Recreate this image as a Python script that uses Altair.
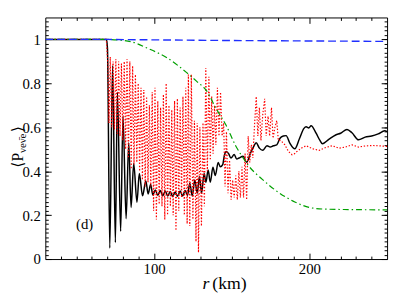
import altair as alt
import pandas as pd

# ---------------- data ----------------
black_r = [30, 69.4, 70.0, 71.5, 73.3, 75.1, 76.4, 78.5, 80.0, 82.0, 83.7, 85.2, 86.9, 89.0, 90.5,
           92.6, 94.7, 96.2, 97.8, 99.2, 100.8, 102.4, 104.0, 105.6, 107.2, 108.8, 110.4, 112.0,
           113.6, 115.2, 116.8, 118.4, 120.0, 121.5, 123.0, 124.6, 126.2, 127.8, 129.2, 130.6,
           132.2, 133.4, 134.8, 136.2, 137.9, 139.4, 141.3, 142.6, 144.2, 145.2, 146.5, 148.0,
           149.5, 151.6, 153.2, 154.7, 157.3, 159.6, 162.1, 164.2, 165.7, 167.8, 169.9, 172.7,
           174.8, 176.8, 179.0, 181.1, 183.2, 185.0, 187.4, 190.6, 193.7, 196.5, 197.9, 199.6,
           201.1, 204.3, 206.8, 208.4, 212.7, 216.9, 220.1, 224.2, 227.4, 231.6, 235.9, 240.1,
           244.3, 248.5, 250]
black_p = [1.0, 1.0, 0.96, 0.05, 0.88, 0.075, 0.76, 0.127, 0.65, 0.184, 0.53, 0.235, 0.435, 0.259, 0.39,
           0.288, 0.356, 0.296, 0.34, 0.292, 0.315, 0.29, 0.312, 0.288, 0.31, 0.287, 0.308, 0.285,
           0.305, 0.286, 0.31, 0.287, 0.312, 0.29, 0.345, 0.288, 0.36, 0.30, 0.375, 0.30,
           0.39, 0.35, 0.405, 0.35, 0.418, 0.38, 0.44, 0.42, 0.43, 0.47, 0.49, 0.48,
           0.46, 0.476, 0.455, 0.46, 0.468, 0.441, 0.483, 0.513, 0.53, 0.505, 0.495, 0.516,
           0.51, 0.516, 0.52, 0.55, 0.56, 0.562, 0.528, 0.502, 0.55, 0.595, 0.602, 0.597,
           0.607, 0.573, 0.54, 0.525, 0.546, 0.565, 0.573, 0.59, 0.575, 0.543, 0.555, 0.56,
           0.57, 0.584, 0.58]

red_r = [30, 69.3, 70.3, 71.0, 71.8, 72.7, 73.6, 74.5, 75.4, 76.3, 77.2, 78.1, 79.0, 79.9, 80.8,
         81.7, 82.6, 83.5, 84.4, 85.3, 86.2, 87.1, 88.0, 88.9, 89.8, 90.7, 91.6, 92.5, 93.4,
         94.3, 95.2, 96.1, 97.0, 97.9, 98.8, 99.7, 100.6, 101.5, 102.4, 103.3, 104.2, 105.1,
         106.0, 106.9, 107.8, 108.7, 109.6, 110.5, 111.4, 112.3, 113.2, 114.1, 115.0, 115.9,
         116.8, 117.7, 118.6, 119.5, 120.4, 121.3, 122.1, 123.0, 124.0, 125.0, 126.0, 127.0,
         127.8, 128.6, 129.5, 130.5, 131.5, 132.4, 133.3, 134.3, 135.3, 136.2, 137.1, 138.0,
         138.9, 139.8, 140.8, 141.8, 142.8, 143.8, 144.8, 145.7, 146.6, 147.6, 148.6, 149.6,
         150.6, 151.6, 152.6, 153.6, 154.6, 155.6, 156.6, 157.6, 158.6, 159.6, 160.6, 161.6,
         162.6, 163.6, 164.6, 165.8, 166.8, 167.8, 168.8, 170.0, 171.2, 172.2, 173.4, 174.4,
         175.6, 176.6, 177.8, 179.0, 180.0, 181.1, 182.2, 184.2, 186.5, 188.8, 190.5, 192.0,
         194.8, 197.9, 202.1, 206.3, 210.5, 214.7, 219.0, 223.2, 227.4, 231.6, 236.0, 241.0,
         246.0, 250.0]
red_p = [1.0, 1.0, 0.88, 0.62, 0.92, 0.60, 0.90, 0.59, 0.91, 0.57, 0.90, 0.56, 0.89, 0.54, 0.90,
         0.50, 0.91, 0.46, 0.90, 0.41, 0.88, 0.43, 0.84, 0.44, 0.80, 0.40, 0.78, 0.36, 0.77,
         0.33, 0.74, 0.35, 0.70, 0.33, 0.76, 0.22, 0.78, 0.18, 0.72, 0.25, 0.69, 0.24,
         0.75, 0.18, 0.80, 0.20, 0.70, 0.24, 0.68, 0.20, 0.72, 0.13, 0.73, 0.22,
         0.69, 0.28, 0.74, 0.20, 0.78, 0.16, 0.84, 0.15, 0.84, 0.18, 0.63, 0.08,
         0.62, 0.03, 0.60, 0.15, 0.62, 0.24, 0.87, 0.40, 0.83, 0.45, 0.74, 0.48,
         0.70, 0.52, 0.78, 0.56, 0.76, 0.56, 0.62, 0.33, 0.58, 0.30, 0.45, 0.27,
         0.36, 0.28, 0.38, 0.27, 0.40, 0.28, 0.42, 0.28, 0.48, 0.27, 0.56, 0.44,
         0.52, 0.46, 0.60, 0.74, 0.56, 0.69, 0.54, 0.66, 0.73, 0.56, 0.65, 0.56,
         0.69, 0.55, 0.60, 0.63, 0.54, 0.54, 0.535, 0.52, 0.49, 0.475, 0.48, 0.49,
         0.505, 0.516, 0.502, 0.495, 0.508, 0.516, 0.505, 0.51, 0.52, 0.51, 0.515, 0.517,
         0.515, 0.513]

green_r = [30, 70, 75, 85, 95.7, 108.4, 121, 127.3, 133.7, 140, 146.3, 152.6, 156, 160.8,
           169.7, 179.8, 190.6, 201.3, 211.4, 230, 250]
green_p = [1.0, 1.0, 0.998, 0.99, 0.96, 0.916, 0.849, 0.81, 0.767, 0.685, 0.61, 0.515, 0.475, 0.425,
           0.363, 0.305, 0.26, 0.233, 0.227, 0.225, 0.224]

blue_r = [30, 70, 100, 150, 200, 250]
blue_p = [1.0, 1.0, 0.998, 0.995, 0.993, 0.991]

panel_label = ["(d)"]
panel_r = [55.3]
panel_p = [0.157]

x_major = [100, 200]
x_minor = [40, 50, 60, 70, 80, 90, 110, 120, 130, 140, 150, 160, 170, 180, 190, 210, 220, 230, 240]
y_major = [0, 0.2, 0.4, 0.6, 0.8, 1.0]
y_minor = [round(i * 0.02, 2) for i in range(1, 55)]

# ---------------- chart ----------------
W, H = 348, 246
FONT = "Liberation Serif, Times New Roman, DejaVu Serif, serif"
xs = alt.Scale(domain=[30, 250], nice=False, zero=False)
ys = alt.Scale(domain=[0, 1.1], nice=False, zero=False)


def tick_axis(orient, values, size, offset):
    return alt.Axis(orient=orient, values=values, tickSize=size, offset=offset, labels=False,
                    domain=False, grid=False, title=None, ticks=True, tickColor="black", tickWidth=1)


def line(r, p, color, dash, width, xaxis, yaxis, interp="linear"):
    kw = dict(color=color, strokeWidth=width, interpolate=interp, clip=True)
    if dash:
        kw["strokeDash"] = dash
    return alt.Chart(pd.DataFrame({"r": r, "p": p})).mark_line(**kw).encode(
        x=alt.X("r:Q", scale=xs, axis=xaxis),
        y=alt.Y("p:Q", scale=ys, axis=yaxis),
        order=alt.Order("r:Q"),
    )


x_lab = alt.Axis(orient="bottom", values=x_major, tickSize=0, labelPadding=3, domain=False, grid=False,
                 title=None, format="d", labelFont=FONT, labelFontSize=15, labelColor="black")
y_lab = alt.Axis(orient="left", values=y_major, tickSize=0, labelPadding=5, domain=False, grid=False,
                 title=None, format="~g", labelFont=FONT, labelFontSize=15, labelColor="black")

black = line(black_r, black_p, "#000000", None, 1.5, x_lab, y_lab, "monotone")
red = line(red_r, red_p, "#ff0000", [1.4, 1.8], 1.2,
           tick_axis("top", x_minor, 3, -H), tick_axis("right", y_minor, 3, -W))
green = line(green_r, green_p, "#00a000", [6, 3, 1.5, 3], 1.2,
             tick_axis("top", x_major, 6, -H), tick_axis("right", y_major, 6, -W), "monotone")
blue = line(blue_r, blue_p, "#1f2fff", [8, 4], 1.4,
            tick_axis("bottom", x_minor, 3, -H), tick_axis("left", y_minor, 3, -W))

panel = alt.Chart(pd.DataFrame({"r": panel_r, "p": panel_p, "t": panel_label})).mark_text(
    font=FONT, fontSize=15, color="black", align="center", baseline="middle"
).encode(
    x=alt.X("r:Q", scale=xs, axis=tick_axis("bottom", x_major, 6, -H)),
    y=alt.Y("p:Q", scale=ys, axis=tick_axis("left", y_major, 6, -W)),
    text="t:N",
)

one = pd.DataFrame({"a": [0]})


def label(text, x, y, size, angle=0, style="normal"):
    return alt.Chart(one).mark_text(
        text=text, font=FONT, fontSize=size, color="black", align="left", baseline="alphabetic",
        angle=angle, fontStyle=style
    ).encode(x=alt.value(x), y=alt.value(y))


xt1 = label("r", 160, 276, 18, style="italic")
xt2 = label("(km)", 170, 276, 18)
yt1 = label("\u27e8P", -23, 153, 16, angle=270)
yt2 = label("\u03bde\u03bd\u0304e", -20, 138, 11, angle=270)
yt3 = label("\u27e9", -23, 117, 16, angle=270)

chart = alt.layer(black, red, green, blue, panel, xt1, xt2, yt1, yt2, yt3).resolve_axis(
    x="independent", y="independent"
).properties(
    width=W, height=H,
    autosize=alt.AutoSizeParams(type="none"),
    padding={"left": 38, "top": 7, "right": 4, "bottom": 36},
    background="white",
).configure_view(stroke="black", strokeWidth=1)

chart.save("out.html", embed_options={"renderer": "svg", "actions": False})
